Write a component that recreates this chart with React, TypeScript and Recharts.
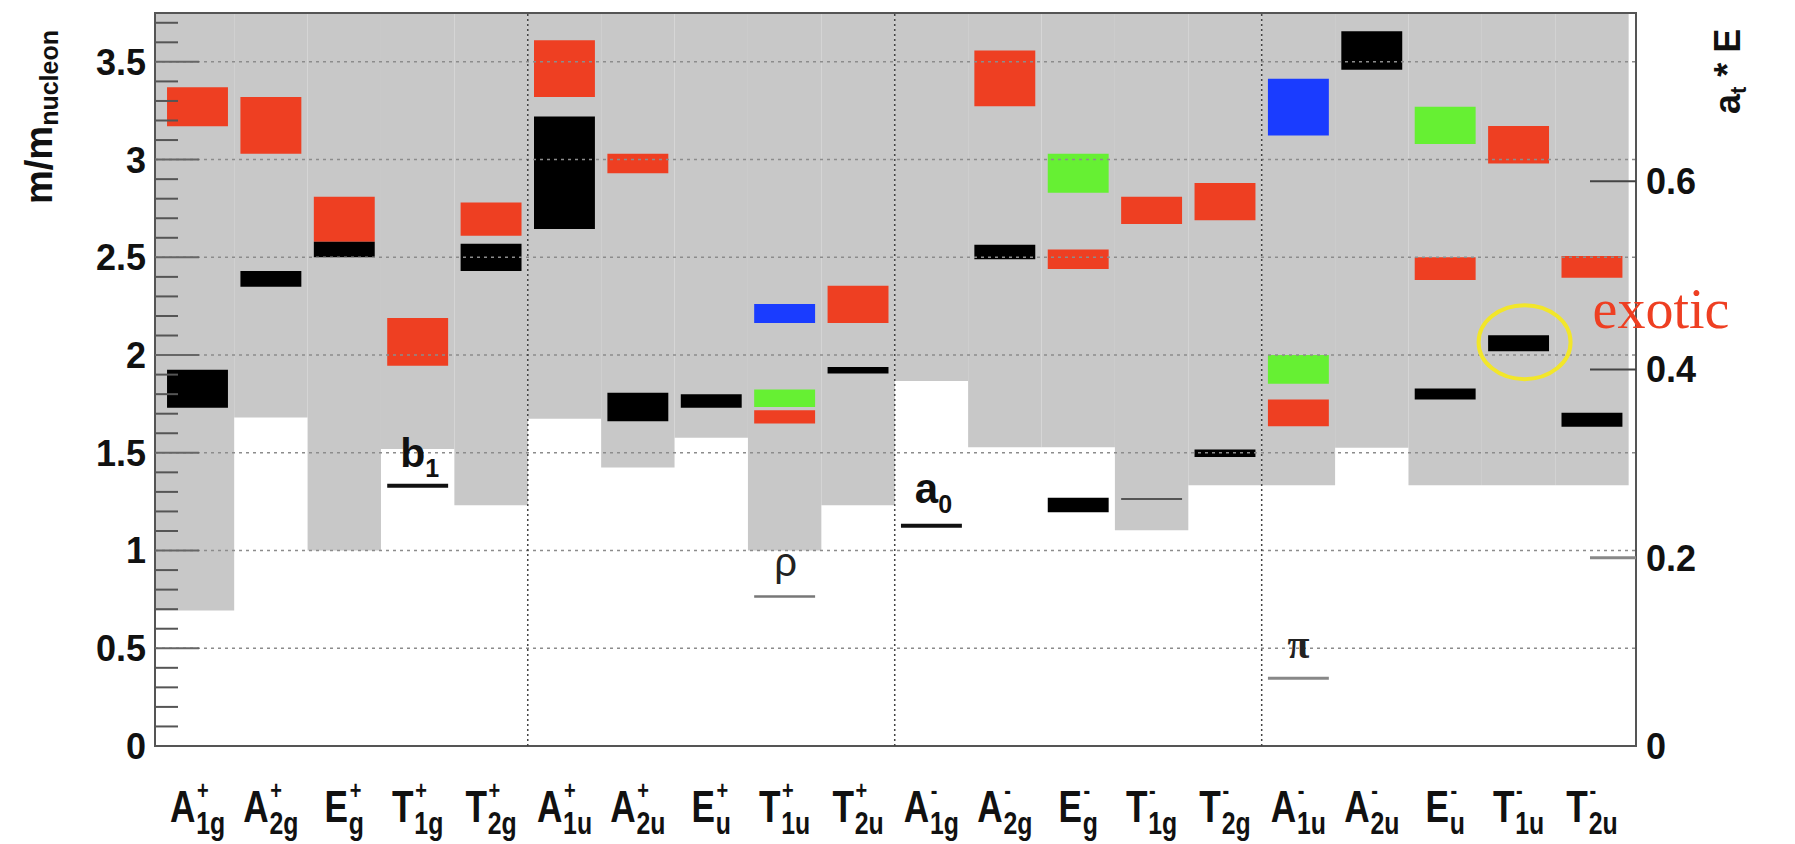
import React from 'react';
import { ComposedChart, XAxis, YAxis, ReferenceArea, ReferenceLine, ReferenceDot } from 'recharts';

// ---- categories (cubic group irreps) ----
const irrepLetter = ['A', 'A', 'E', 'T', 'T', 'A', 'A', 'E', 'T', 'T', 'A', 'A', 'E', 'T', 'T', 'A', 'A', 'E', 'T', 'T'];
const irrepSub = ['1g', '2g', 'g', '1g', '2g', '1u', '2u', 'u', '1u', '2u', '1g', '2g', 'g', '1g', '2g', '1u', '2u', 'u', '1u', '2u'];
const irrepParity = ['+', '+', '+', '+', '+', '+', '+', '+', '+', '+', '-', '-', '-', '-', '-', '-', '-', '-', '-', '-'];

// lower edge of the grey (multi-hadron threshold) region, in m/m_nucleon
const thresholdMass = [0.693, 1.68, 1.0, 1.52, 1.232, 1.674, 1.425, 1.577, 1.0, 1.232, 1.867, 1.529, 1.529, 1.104, 1.334, 1.334, 1.526, 1.334, 1.334, 1.334];

// state boxes: [low, high] per category, null = none
const redLow = [3.17, 3.03, 2.58, 1.945, 2.61, 3.32, 2.93, null, 1.65, 2.164, null, 3.273, 2.44, 2.67, 2.69, 1.636, null, 2.384, 2.98, 2.396];
const redHigh = [3.37, 3.32, 2.81, 2.19, 2.78, 3.61, 3.03, null, 1.718, 2.355, null, 3.558, 2.54, 2.81, 2.88, 1.773, null, 2.5, 3.172, 2.507];
const blackLow = [1.73, 2.35, 2.5, null, 2.43, 2.645, 1.662, 1.73, null, 1.906, null, 2.49, 1.196, null, 1.478, null, 3.46, 1.773, 2.02, 1.633];
const blackHigh = [1.925, 2.43, 2.58, null, 2.57, 3.22, 1.807, 1.8, null, 1.939, null, 2.565, 1.27, null, 1.517, null, 3.657, 1.829, 2.102, 1.705];
const greenLow = [null, null, null, null, null, null, null, null, 1.734, null, null, null, 2.83, null, null, 1.853, null, 3.08, null, null];
const greenHigh = [null, null, null, null, null, null, null, null, 1.824, null, null, null, 3.03, null, null, 2.0, null, 3.27, null, null];
const blueLow = [null, null, null, null, null, null, null, null, 2.164, null, null, null, null, null, null, 3.123, null, null, null, null];
const blueHigh = [null, null, null, null, null, null, null, null, 2.261, null, null, null, null, null, null, 3.413, null, null, null, null];

// experimental meson reference levels
const mesonName = ['b', 'ρ', 'a', 'π', ''];
const mesonSub = ['1', '', '0', '', ''];
const mesonCat = [3, 8, 10, 15, 13];
const mesonMass = [1.331, 0.765, 1.127, 0.346, 1.264];

const exoticCat = 18;

// axes ticks
const leftMinorTicks = [0, 0.1, 0.2, 0.3, 0.4, 0.5, 0.6, 0.7, 0.8, 0.9, 1, 1.1, 1.2, 1.3, 1.4, 1.5, 1.6, 1.7, 1.8, 1.9, 2, 2.1, 2.2, 2.3, 2.4, 2.5, 2.6, 2.7, 2.8, 2.9, 3, 3.1, 3.2, 3.3, 3.4, 3.5, 3.6, 3.7];
const gridMass = [0.5, 1, 1.5, 2, 2.5, 3, 3.5];
const rightTicks = [0, 0.2, 0.4, 0.6];
const dividers = [5, 10, 15];
const catCenters = irrepLetter.map((_, i) => i + 0.5);

const X_MIN = -0.079;
const X_MAX = 20.1;
const Y_MAX = 3.75;
const Y2_MAX = 0.7786;
const HALF = 0.415;

const RED = '#ee3f22';
const GREEN = '#66f033';
const BLUE = '#1a3cff';
const BLACK = '#000000';
const GREY = '#c8c8c8';
const SANS = '"Liberation Sans", Arial, Helvetica, sans-serif';
const SERIF = '"Liberation Serif", "Times New Roman", serif';

const letterW: Record<string, number> = { A: 0.722, E: 0.667, T: 0.611 };

const XTick = (props: any) => {
  const { x, y, payload } = props;
  const i = Math.round(payload.value - 0.5);
  const L = irrepLetter[i];
  const lf = 44;
  const lw = letterW[L] * lf;
  const subF = 31;
  const subW = irrepSub[i].length === 2 ? 1.167 * subF : 0.611 * subF;
  const total = lw + subW + 1;
  const sx = 0.8;
  return (
    <g transform={`translate(${x},${y}) scale(${sx},1)`}>
      <g transform={`translate(${-total / 2},0)`} fontFamily={SANS} fontWeight="bold" fill="#111">
        <text x={0} y={76} fontSize={lf}>{L}</text>
        <text x={lw + 2} y={53} fontSize={25}>{irrepParity[i] === '+' ? '+' : '-'}</text>
        <text x={lw + 1} y={88} fontSize={subF}>{irrepSub[i]}</text>
      </g>
    </g>
  );
};

const LeftTick = (props: any) => {
  const { x, y, payload } = props;
  const v = payload.value;
  const major = Math.abs(v * 2 - Math.round(v * 2)) < 1e-6;
  return (
    <g>
      {v > 0 && (
        <line x1={x} x2={x + (major ? 44 : 23)} y1={y} y2={y} stroke={major ? '#666' : '#555'} strokeWidth={2} />
      )}
      {major && (
        <text x={x - 9} y={y} dy="0.36em" textAnchor="end" fontFamily={SANS} fontWeight="bold" fontSize={36} fill="#111">
          {String(v)}
        </text>
      )}
    </g>
  );
};

const RightTick = (props: any) => {
  const { x, y, payload } = props;
  const v = payload.value;
  return (
    <g>
      {v > 0 && <line x1={x - 46} x2={x} y1={y} y2={y} stroke={v === 0.2 ? '#888' : '#444'} strokeWidth={v === 0.2 ? 3 : 2} />}
      <text x={x + 10} y={y} dy="0.36em" textAnchor="start" fontFamily={SANS} fontWeight="bold" fontSize={36} fill="#111">
        {String(v)}
      </text>
    </g>
  );
};

type Box = { i: number; lo: number; hi: number; color: string };
const boxes: Box[] = [];
const addBoxes = (lo: (number | null)[], hi: (number | null)[], color: string) => {
  lo.forEach((l, i) => {
    const h = hi[i];
    if (l !== null && h !== null) boxes.push({ i, lo: l, hi: h, color });
  });
};
addBoxes(redLow, redHigh, RED);
addBoxes(greenLow, greenHigh, GREEN);
addBoxes(blueLow, blueHigh, BLUE);
addBoxes(blackLow, blackHigh, BLACK);

const mesonStyle = [
  { stroke: '#111', width: 4 },
  { stroke: '#777', width: 2.5 },
  { stroke: '#111', width: 4 },
  { stroke: '#888', width: 3 },
  { stroke: '#555', width: 2 },
];

export default function App() {
  const data = catCenters.map((x, i) => ({ x, thr: thresholdMass[i] }));
  return (
    <div style={{ position: 'absolute', left: 0, top: 0, width: 1795, height: 844, background: '#fff' }}>
      <ComposedChart width={1795} height={844} data={data} margin={{ top: 13, right: 79, left: 75, bottom: 38 }}>
        <XAxis
          type="number"
          dataKey="x"
          domain={[X_MIN, X_MAX]}
          ticks={catCenters}
          interval={0}
          tick={<XTick />}
          tickLine={false}
          axisLine={false}
          tickSize={0}
          tickMargin={0}
          height={60}
          allowDataOverflow
        />
        <YAxis
          yAxisId="left"
          type="number"
          domain={[0, Y_MAX]}
          ticks={leftMinorTicks}
          interval={0}
          tick={<LeftTick />}
          tickLine={false}
          axisLine={false}
          tickSize={0}
          tickMargin={0}
          width={80}
          allowDataOverflow
        />
        <YAxis
          yAxisId="right"
          orientation="right"
          type="number"
          domain={[0, Y2_MAX]}
          ticks={rightTicks}
          interval={0}
          tick={<RightTick />}
          tickLine={false}
          axisLine={false}
          tickSize={0}
          tickMargin={0}
          width={80}
          allowDataOverflow
        />

        {thresholdMass.map((t, i) => (
          <ReferenceArea
            key={'g' + i}
            yAxisId="left"
            x1={i === 0 ? X_MIN : i}
            x2={i + 1}
            y1={t}
            y2={Y_MAX}
            fill={GREY}
            fillOpacity={1}
            stroke="none"
            ifOverflow="visible"
          />
        ))}

        {gridMass.map((g) => (
          <ReferenceLine key={'h' + g} yAxisId="left" y={g} stroke="#8c8c8c" strokeWidth={1.5} strokeDasharray="3 4" ifOverflow="visible" />
        ))}
        {dividers.map((d) => (
          <ReferenceLine key={'v' + d} yAxisId="left" x={d} stroke="#444" strokeWidth={1.5} strokeDasharray="2 3" ifOverflow="visible" />
        ))}

        {boxes.map((b, k) => (
          <ReferenceArea
            key={'b' + k}
            yAxisId="left"
            x1={b.i + 0.5 - HALF}
            x2={b.i + 0.5 + HALF}
            y1={b.lo}
            y2={b.hi}
            fill={b.color}
            fillOpacity={1}
            stroke="none"
            ifOverflow="visible"
          />
        ))}

        {mesonMass.map((m, k) => (
          <ReferenceLine
            key={'m' + k}
            yAxisId="left"
            segment={[
              { x: mesonCat[k] + 0.5 - HALF, y: m },
              { x: mesonCat[k] + 0.5 + HALF, y: m },
            ]}
            stroke={mesonStyle[k].stroke}
            strokeWidth={mesonStyle[k].width}
            ifOverflow="visible"
          />
        ))}

        {mesonMass.map((m, k) =>
          mesonName[k] ? (
            <ReferenceDot
              key={'ml' + k}
              yAxisId="left"
              x={mesonCat[k] + 0.5}
              y={m}
              r={1}
              ifOverflow="visible"
              shape={(p: any) => {
                const cx = p.cx;
                const cy = p.cy;
                if (mesonSub[k])
                  return (
                    <text x={cx + 2} y={cy - (k === 0 ? 19 : 23)} textAnchor="middle" fontFamily={SANS} fontWeight="bold" fill="#111">
                      <tspan fontSize={k === 0 ? 41 : 42}>{mesonName[k]}</tspan>
                      <tspan fontSize={25} dy={10}>{mesonSub[k]}</tspan>
                    </text>
                  );
                if (k === 1)
                  return (
                    <text x={cx + 1} y={cy - 20} textAnchor="middle" fontFamily={SANS} fontSize={40} fill="#222">
                      {mesonName[k]}
                    </text>
                  );
                return (
                  <text x={cx} y={cy - 20} textAnchor="middle" fontFamily={SERIF} fontWeight="bold" fontSize={40} fill="#222">
                    {mesonName[k]}
                  </text>
                );
              }}
            />
          ) : null
        )}

        <ReferenceDot
          yAxisId="left"
          x={exoticCat + 0.5}
          y={(blackLow[exoticCat] as number + (blackHigh[exoticCat] as number)) / 2}
          r={1}
          ifOverflow="visible"
          shape={(p: any) => (
            <g>
              <ellipse cx={p.cx + 6} cy={p.cy - 1} rx={46} ry={37} fill="none" stroke="#f2e62a" strokeWidth={4} />
              <text x={p.cx + 74} y={p.cy - 15} fontFamily={SERIF} fontSize={56} fill={RED}>
                exotic
              </text>
            </g>
          )}
        />

        <ReferenceArea
          yAxisId="left"
          x1={X_MIN}
          x2={X_MAX}
          y1={0}
          y2={Y_MAX}
          fill="none"
          fillOpacity={0}
          stroke="#555"
          strokeWidth={2}
          ifOverflow="visible"
        />
      </ComposedChart>
      <svg width={1795} height={844} style={{ position: 'absolute', left: 0, top: 0, pointerEvents: 'none' }}>
        <text transform="translate(52,204) rotate(-90)" fontFamily={SANS} fontWeight="bold" fill="#111">
          <tspan fontSize={38}>m/m</tspan>
          <tspan fontSize={25} dy={6}>nucleon</tspan>
        </text>
        <text transform="translate(1740,114) rotate(-90)" fontFamily={SANS} fontWeight="bold" fill="#111">
          <tspan fontSize={36}>a</tspan>
          <tspan fontSize={22} dy={6}>t</tspan>
          <tspan fontSize={36} dy={-6}> * E</tspan>
        </text>
      </svg>
    </div>
  );
}
